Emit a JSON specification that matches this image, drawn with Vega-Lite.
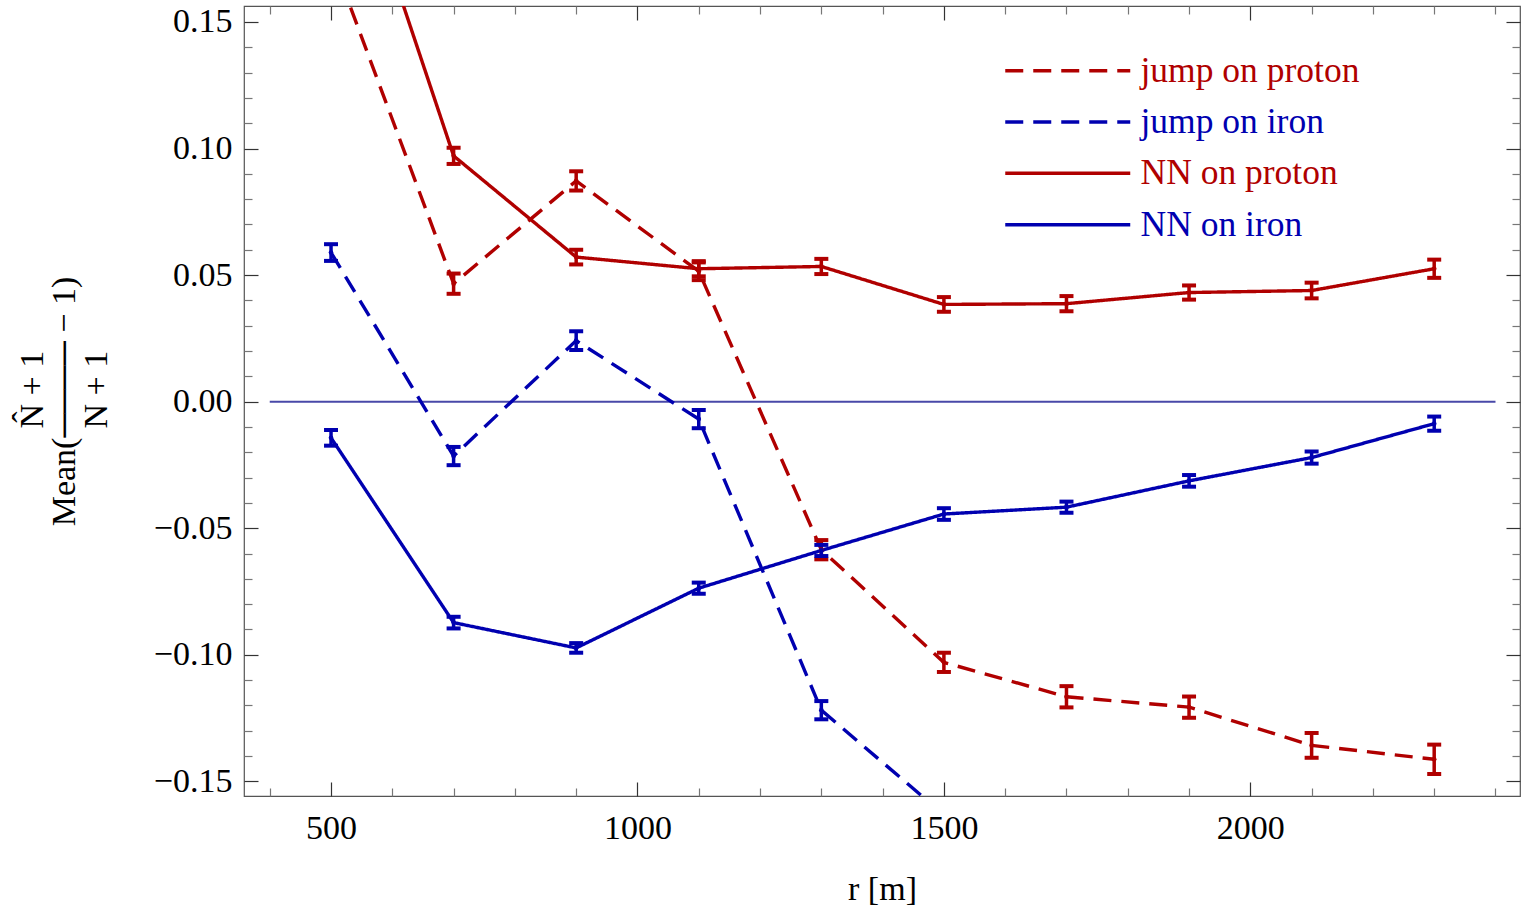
{
  "$schema": "https://vega.github.io/schema/vega-lite/v6.json",
  "width": 1276,
  "height": 790,
  "autosize": "none",
  "padding": {"left": 244, "top": 6, "right": 8, "bottom": 110},
  "background": "white",
  "config": {
    "view": {"stroke": "#555555", "strokeWidth": 1.2},
    "font": "Liberation Serif",
    "axis": {
      "domain": false,
      "grid": false,
      "labelFont": "Liberation Serif",
      "labelFontSize": 34,
      "labelColor": "black",
      "titleFont": "Liberation Serif",
      "titleFontSize": 34,
      "titleFontWeight": "normal",
      "titleColor": "black",
      "tickWidth": 1.2,
      "labelFlush": false,
      "labelOverlap": false
    }
  },
  "datasets": {
    "curves": [
      {"r": 500, "series": "jump on proton", "mean": 0.1764, "lo": 0.1724, "hi": 0.1804},
      {"r": 700, "series": "jump on proton", "mean": 0.0466, "lo": 0.0426, "hi": 0.0506},
      {"r": 900, "series": "jump on proton", "mean": 0.0872, "lo": 0.0834, "hi": 0.0910},
      {"r": 1100, "series": "jump on proton", "mean": 0.0515, "lo": 0.0480, "hi": 0.0550},
      {"r": 1300, "series": "jump on proton", "mean": -0.0585, "lo": -0.0623, "hi": -0.0547},
      {"r": 1500, "series": "jump on proton", "mean": -0.1030, "lo": -0.1068, "hi": -0.0992},
      {"r": 1700, "series": "jump on proton", "mean": -0.1166, "lo": -0.1208, "hi": -0.1124},
      {"r": 1900, "series": "jump on proton", "mean": -0.1207, "lo": -0.1249, "hi": -0.1165},
      {"r": 2100, "series": "jump on proton", "mean": -0.1358, "lo": -0.1407, "hi": -0.1309},
      {"r": 2300, "series": "jump on proton", "mean": -0.1413, "lo": -0.1471, "hi": -0.1355},
      {"r": 500, "series": "jump on iron", "mean": 0.0589, "lo": 0.0556, "hi": 0.0622},
      {"r": 700, "series": "jump on iron", "mean": -0.0215, "lo": -0.0251, "hi": -0.0179},
      {"r": 900, "series": "jump on iron", "mean": 0.0241, "lo": 0.0204, "hi": 0.0278},
      {"r": 1100, "series": "jump on iron", "mean": -0.0069, "lo": -0.0105, "hi": -0.0033},
      {"r": 1300, "series": "jump on iron", "mean": -0.1219, "lo": -0.1255, "hi": -0.1183},
      {"r": 1500, "series": "jump on iron", "mean": -0.1632, "lo": -0.1670, "hi": -0.1594},
      {"r": 500, "series": "NN on proton", "mean": 0.2420, "lo": 0.2390, "hi": 0.2450},
      {"r": 700, "series": "NN on proton", "mean": 0.0971, "lo": 0.0939, "hi": 0.1003},
      {"r": 900, "series": "NN on proton", "mean": 0.0571, "lo": 0.0542, "hi": 0.0600},
      {"r": 1100, "series": "NN on proton", "mean": 0.0525, "lo": 0.0495, "hi": 0.0555},
      {"r": 1300, "series": "NN on proton", "mean": 0.0534, "lo": 0.0504, "hi": 0.0564},
      {"r": 1500, "series": "NN on proton", "mean": 0.0384, "lo": 0.0355, "hi": 0.0413},
      {"r": 1700, "series": "NN on proton", "mean": 0.0387, "lo": 0.0357, "hi": 0.0417},
      {"r": 1900, "series": "NN on proton", "mean": 0.0431, "lo": 0.0403, "hi": 0.0459},
      {"r": 2100, "series": "NN on proton", "mean": 0.0439, "lo": 0.0408, "hi": 0.0470},
      {"r": 2300, "series": "NN on proton", "mean": 0.0525, "lo": 0.0489, "hi": 0.0561},
      {"r": 500, "series": "NN on iron", "mean": -0.0143, "lo": -0.0174, "hi": -0.0112},
      {"r": 700, "series": "NN on iron", "mean": -0.0873, "lo": -0.0896, "hi": -0.0850},
      {"r": 900, "series": "NN on iron", "mean": -0.0973, "lo": -0.0992, "hi": -0.0954},
      {"r": 1100, "series": "NN on iron", "mean": -0.0737, "lo": -0.0759, "hi": -0.0715},
      {"r": 1300, "series": "NN on iron", "mean": -0.0588, "lo": -0.0610, "hi": -0.0566},
      {"r": 1500, "series": "NN on iron", "mean": -0.0444, "lo": -0.0467, "hi": -0.0421},
      {"r": 1700, "series": "NN on iron", "mean": -0.0417, "lo": -0.0439, "hi": -0.0395},
      {"r": 1900, "series": "NN on iron", "mean": -0.0313, "lo": -0.0336, "hi": -0.0290},
      {"r": 2100, "series": "NN on iron", "mean": -0.0221, "lo": -0.0245, "hi": -0.0197},
      {"r": 2300, "series": "NN on iron", "mean": -0.0087, "lo": -0.0115, "hi": -0.0059}
    ]
  },
  "data": {"name": "curves"},
  "resolve": {"axis": {"x": "independent", "y": "independent"}},
  "layer": [
    {
      "data": {"values": [{}]},
      "mark": {"type": "rule", "color": "#4848a8", "strokeWidth": 2},
      "encoding": {
        "x": {
          "datum": 400,
          "type": "quantitative",
          "scale": {"domain": [358, 2440], "nice": false, "zero": false},
          "axis": {
            "orient": "bottom",
            "values": [500, 1000, 1500, 2000],
            "format": "d",
            "tickSize": -14,
            "tickColor": "#333333",
            "labelPadding": 29,
            "title": "r [m]",
            "titlePadding": 27
          }
        },
        "x2": {"datum": 2400},
        "y": {
          "datum": 0,
          "type": "quantitative",
          "scale": {"domain": [-0.1558, 0.1563], "nice": false, "zero": false},
          "axis": {
            "orient": "left",
            "values": [-0.15, -0.1, -0.05, 0, 0.05, 0.1, 0.15],
            "format": ".2f",
            "tickSize": -14,
            "tickColor": "#333333",
            "labelPadding": 26,
            "title": ["\u200b\u2002\u2009N\u0302 + 1", "Mean(\u2500\u2500\u2500\u2500 \u2212 1)", "\u200b\u2002\u2009N + 1"],
            "titleLineHeight": 32,
            "titlePadding": 40
          }
        }
      }
    },
    {
      "mark": {"type": "line", "strokeWidth": 3.4, "clip": true},
      "encoding": {
        "x": {
          "field": "r",
          "type": "quantitative",
          "axis": {
            "orient": "bottom",
            "values": [400, 600, 700, 800, 900, 1100, 1200, 1300, 1400, 1600, 1700, 1800, 1900, 2100, 2200, 2300, 2400],
            "tickSize": -8,
            "tickColor": "#777777",
            "labels": false,
            "title": null
          }
        },
        "y": {
          "field": "mean",
          "type": "quantitative",
          "axis": {
            "orient": "left",
            "values": [-0.14, -0.13, -0.12, -0.11, -0.09, -0.08, -0.07, -0.06, -0.04, -0.03, -0.02, -0.01, 0.01, 0.02, 0.03, 0.04, 0.06, 0.07, 0.08, 0.09, 0.11, 0.12, 0.13, 0.14],
            "tickSize": -8,
            "tickColor": "#777777",
            "labels": false,
            "title": null
          }
        },
        "color": {
          "field": "series",
          "type": "nominal",
          "scale": {
            "domain": ["jump on proton", "jump on iron", "NN on proton", "NN on iron"],
            "range": ["#b00000", "#0000b0", "#b00000", "#0000b0"]
          },
          "legend": {
            "orient": "none",
            "legendX": 806,
            "legendY": 47,
            "title": null,
            "padding": 0,
            "symbolType": "M-5,0H5",
            "symbolSize": 625,
            "symbolStrokeWidth": 3.5,
            "labelFont": "Liberation Serif",
            "labelFontSize": 35.5,
            "labelLimit": 0,
            "labelOffset": 55,
            "labelBaseline": "middle",
            "rowPadding": 14.3,
            "encode": {
              "labels": {"update": {"fill": {"signal": "scale('color', datum.value)"}}}
            }
          }
        },
        "strokeDash": {
          "field": "series",
          "type": "nominal",
          "scale": {
            "domain": ["jump on proton", "jump on iron", "NN on proton", "NN on iron"],
            "range": [[18, 10], [18, 10], [1, 0], [1, 0]]
          }
        }
      }
    },
    {
      "mark": {"type": "rule", "strokeWidth": 3.5, "clip": true},
      "encoding": {
        "x": {
          "field": "r",
          "type": "quantitative",
          "axis": {
            "orient": "top",
            "values": [500, 1000, 1500, 2000],
            "tickSize": -14,
            "tickColor": "#333333",
            "labels": false,
            "title": null
          }
        },
        "y": {
          "field": "lo",
          "type": "quantitative",
          "axis": {
            "orient": "right",
            "values": [-0.15, -0.1, -0.05, 0, 0.05, 0.1, 0.15],
            "tickSize": -14,
            "tickColor": "#333333",
            "labels": false,
            "title": null
          }
        },
        "y2": {"field": "hi"},
        "color": {"field": "series", "type": "nominal", "legend": null}
      }
    },
    {
      "mark": {"type": "tick", "orient": "horizontal", "size": 14, "thickness": 4, "opacity": 1, "clip": true},
      "encoding": {
        "x": {
          "field": "r",
          "type": "quantitative",
          "axis": {
            "orient": "top",
            "values": [400, 600, 700, 800, 900, 1100, 1200, 1300, 1400, 1600, 1700, 1800, 1900, 2100, 2200, 2300, 2400],
            "tickSize": -8,
            "tickColor": "#777777",
            "labels": false,
            "title": null
          }
        },
        "y": {
          "field": "lo",
          "type": "quantitative",
          "axis": {
            "orient": "right",
            "values": [-0.14, -0.13, -0.12, -0.11, -0.09, -0.08, -0.07, -0.06, -0.04, -0.03, -0.02, -0.01, 0.01, 0.02, 0.03, 0.04, 0.06, 0.07, 0.08, 0.09, 0.11, 0.12, 0.13, 0.14],
            "tickSize": -8,
            "tickColor": "#777777",
            "labels": false,
            "title": null
          }
        },
        "color": {"field": "series", "type": "nominal", "legend": null}
      }
    },
    {
      "mark": {"type": "tick", "orient": "horizontal", "size": 14, "thickness": 4, "opacity": 1, "clip": true},
      "encoding": {
        "x": {"field": "r", "type": "quantitative", "axis": null},
        "y": {"field": "hi", "type": "quantitative", "axis": null},
        "color": {"field": "series", "type": "nominal", "legend": null}
      }
    },
    {
      "mark": {"type": "point", "filled": true, "size": 22, "opacity": 1, "clip": true},
      "encoding": {
        "x": {"field": "r", "type": "quantitative", "axis": null},
        "y": {"field": "mean", "type": "quantitative", "axis": null},
        "color": {"field": "series", "type": "nominal", "legend": null}
      }
    }
  ]
}
